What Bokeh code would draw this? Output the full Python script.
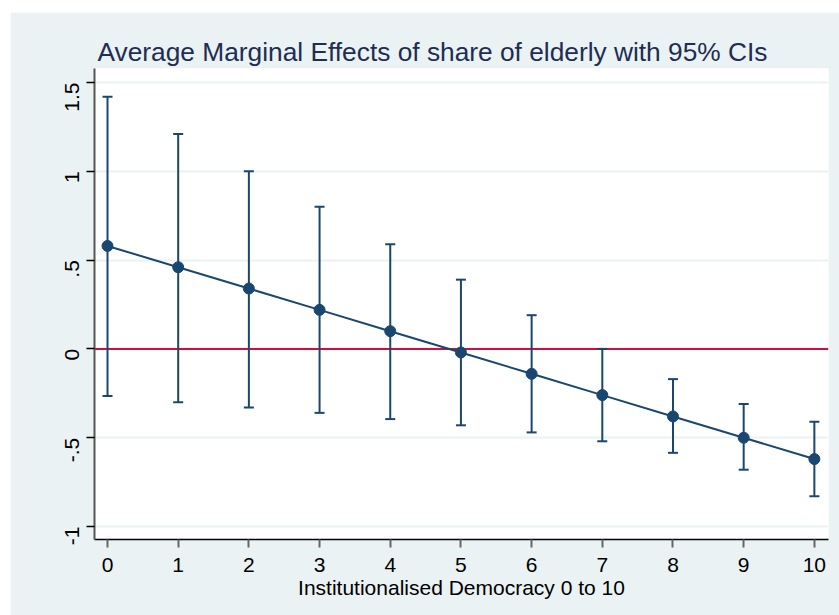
from bokeh.plotting import figure
from bokeh.models import Range1d, FixedTicker, CustomJSTickFormatter, Span, Spacer
from bokeh.layouts import column, row
from bokeh.embed import file_html
from bokeh.resources import INLINE
import math

# Data
democracy = [0, 1, 2, 3, 4, 5, 6, 7, 8, 9, 10]
effect = [0.58, 0.46, 0.34, 0.22, 0.10, -0.02, -0.14, -0.26, -0.38, -0.50, -0.62]
ci_upper = [1.42, 1.21, 1.00, 0.80, 0.59, 0.39, 0.19, 0.00, -0.17, -0.31, -0.41]
ci_lower = [-0.265, -0.30, -0.33, -0.36, -0.395, -0.43, -0.47, -0.52, -0.585, -0.68, -0.83]

x_ticks = [0, 1, 2, 3, 4, 5, 6, 7, 8, 9, 10]
y_ticks = [-1, -0.5, 0, 0.5, 1, 1.5]
y_tick_labels = ["-1", "-.5", "0", ".5", "1", "1.5"]

title_text = "Average Marginal Effects of share of elderly with 95% CIs"
x_label = "Institutionalised Democracy 0 to 10"

NAVY = "#1A476F"
BG = "#EAF2F3"
FONT = "Liberation Sans"

p = figure(width=829, height=603, output_backend="svg", toolbar_location=None,
           x_range=Range1d(-0.184, 10.2), y_range=Range1d(-1.073, 1.579),
           min_border_left=84, min_border_right=11, min_border_top=56, min_border_bottom=76)

p.border_fill_color = BG
p.background_fill_color = "white"
p.outline_line_color = None

p.title.text = title_text
p.title.align = "left"
p.title.offset = 3
p.title.standoff = 4
p.title.text_font = FONT
p.title.text_font_size = "26.3px"
p.title.text_font_style = "normal"
p.title.text_color = "#1E2D53"

# grid
p.xgrid.visible = False
p.ygrid.grid_line_color = BG
p.ygrid.grid_line_width = 2
p.ygrid.ticker = FixedTicker(ticks=y_ticks)

# x axis
p.xaxis.ticker = FixedTicker(ticks=x_ticks)
p.xaxis.axis_label = x_label
p.xaxis.axis_label_text_font = FONT
p.xaxis.axis_label_text_font_size = "21px"
p.xaxis.axis_label_text_font_style = "normal"
p.xaxis.axis_label_text_color = "black"
p.xaxis.axis_label_standoff = 1
p.xaxis.major_label_text_font = FONT
p.xaxis.major_label_text_font_size = "21px"
p.xaxis.major_label_text_color = "black"
p.xaxis.major_label_standoff = 10
p.xaxis.axis_line_color = "black"
p.xaxis.axis_line_width = 1.5
p.xaxis.major_tick_line_color = "#666666"
p.xaxis.major_tick_line_width = 2
p.xaxis.major_tick_out = 8
p.xaxis.major_tick_in = 0
p.xaxis.minor_tick_line_color = None

# y axis
p.yaxis.ticker = FixedTicker(ticks=y_ticks)
p.yaxis.formatter = CustomJSTickFormatter(
    args=dict(tick_values=y_ticks, tick_labels=y_tick_labels),
    code="const i = tick_values.indexOf(tick); return i >= 0 ? tick_labels[i] : tick.toString();")
p.yaxis.major_label_orientation = math.pi / 2
p.yaxis.major_label_text_font = FONT
p.yaxis.major_label_text_font_size = "21px"
p.yaxis.major_label_text_color = "black"
p.yaxis.major_label_standoff = 14
p.yaxis.axis_line_color = "#555555"
p.yaxis.axis_line_width = 2
p.yaxis.major_tick_line_color = "black"
p.yaxis.major_tick_line_width = 1.5
p.yaxis.major_tick_out = 8
p.yaxis.major_tick_in = 0
p.yaxis.minor_tick_line_color = None

# zero reference line
zero = Span(location=0, dimension="width", line_color="#D0103A", line_width=2, level="underlay")
p.add_layout(zero)

# CIs
p.segment(x0=democracy, y0=ci_lower, x1=democracy, y1=ci_upper, line_color=NAVY, line_width=2)
p.scatter(democracy, ci_upper, marker="dash", size=10, line_color=NAVY, line_width=2)
p.scatter(democracy, ci_lower, marker="dash", size=10, line_color=NAVY, line_width=2)

# point estimates
p.line(democracy, effect, line_color=NAVY, line_width=2)
p.scatter(democracy, effect, marker="circle", size=11, fill_color=NAVY, line_color=NAVY)

layout = column(Spacer(height=12, width=839),
                row(Spacer(width=10, height=603), p))

open("out.html", "w").write(file_html(layout, INLINE))
